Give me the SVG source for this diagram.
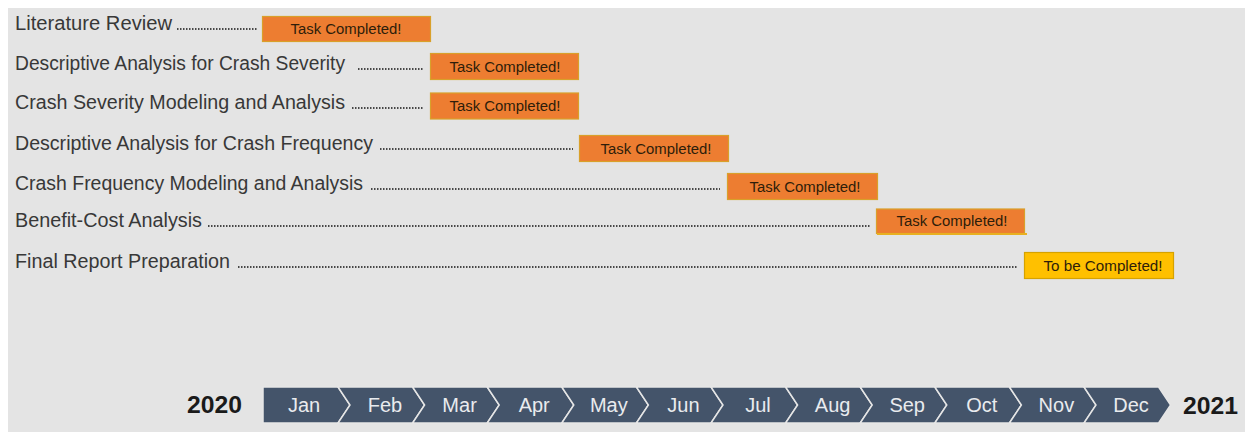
<svg xmlns="http://www.w3.org/2000/svg" width="1245" height="432" viewBox="0 0 1245 432">
  <style>
    .label { font-family: "Liberation Sans", Arial, sans-serif; font-size: 20px; fill: #383838; }
    .status { font-family: "Liberation Sans", Arial, sans-serif; font-size: 14px; fill: #2e1d0a; text-anchor: middle; }
    .done { fill: #ed7d31; stroke: #d9a02a; stroke-width: 1.2; }
    .todo { fill: #ffc000; stroke: #d6a200; stroke-width: 1.2; }
    .leader { stroke: #474747; stroke-width: 1.8; stroke-dasharray: 1.5 1.5; fill: none; }
    .chev { fill: #44546a; stroke: #e6e6e6; stroke-width: 1.5; stroke-linejoin: miter; }
    .month { font-family: "Liberation Sans", Arial, sans-serif; font-size: 20px; fill: #e9ebee; text-anchor: middle; }
    .year { font-family: "Liberation Sans", Arial, sans-serif; font-size: 23px; font-weight: bold; fill: #1a1a1a; }
  </style>

  <!-- page backdrop -->
  <rect x="0" y="0" width="1245" height="432" fill="#ffffff"/>
  <rect x="8" y="8" width="1237" height="424" fill="#e4e4e4"/>

  <!-- dotted leaders from each task name to its status bar -->
  <g id="leaders">
    <line class="leader" x1="177" y1="29" x2="257" y2="29"/>
    <line class="leader" x1="358" y1="69" x2="424" y2="69"/>
    <line class="leader" x1="352" y1="108" x2="424" y2="108"/>
    <line class="leader" x1="380" y1="149" x2="573" y2="149"/>
    <line class="leader" x1="371" y1="189" x2="720" y2="189"/>
    <line class="leader" x1="208" y1="226" x2="871" y2="226"/>
    <line class="leader" x1="238" y1="267" x2="1017" y2="267"/>
  </g>

  <g id="task-literature-review">
    <text class="label" x="15" y="30" textLength="157" lengthAdjust="spacingAndGlyphs">Literature Review</text>
    <rect class="done" x="262.5" y="16.5" width="168" height="25"/>
    <text class="status" x="346" y="34" textLength="111" lengthAdjust="spacingAndGlyphs">Task Completed!</text>
  </g>

  <g id="task-severity-descriptive">
    <text class="label" x="15" y="70" textLength="330" lengthAdjust="spacingAndGlyphs">Descriptive Analysis for Crash Severity</text>
    <rect class="done" x="430.5" y="53.5" width="148" height="26"/>
    <text class="status" x="505" y="71.5" textLength="111" lengthAdjust="spacingAndGlyphs">Task Completed!</text>
  </g>

  <g id="task-severity-modeling">
    <text class="label" x="15" y="109" textLength="330" lengthAdjust="spacingAndGlyphs">Crash Severity Modeling and Analysis</text>
    <rect class="done" x="430.5" y="93" width="148" height="26"/>
    <text class="status" x="505" y="111" textLength="111" lengthAdjust="spacingAndGlyphs">Task Completed!</text>
  </g>

  <g id="task-frequency-descriptive">
    <text class="label" x="15" y="150" textLength="358" lengthAdjust="spacingAndGlyphs">Descriptive Analysis for Crash Frequency</text>
    <rect class="done" x="579.5" y="135.5" width="149" height="26"/>
    <text class="status" x="656" y="153.5" textLength="111" lengthAdjust="spacingAndGlyphs">Task Completed!</text>
  </g>

  <g id="task-frequency-modeling">
    <text class="label" x="15" y="190" textLength="348" lengthAdjust="spacingAndGlyphs">Crash Frequency Modeling and Analysis</text>
    <rect class="done" x="727.5" y="173.5" width="150" height="26"/>
    <text class="status" x="805" y="191.5" textLength="111" lengthAdjust="spacingAndGlyphs">Task Completed!</text>
  </g>

  <g id="task-benefit-cost">
    <text class="label" x="15" y="227" textLength="187" lengthAdjust="spacingAndGlyphs">Benefit-Cost Analysis</text>
    <rect class="done" x="876.5" y="209" width="148" height="24.5"/>
    <line x1="877" y1="234" x2="1027" y2="234" stroke="#e8b020" stroke-width="2"/>
    <text class="status" x="952" y="226" textLength="111" lengthAdjust="spacingAndGlyphs">Task Completed!</text>
  </g>

  <g id="task-final-report">
    <text class="label" x="15" y="268" textLength="215" lengthAdjust="spacingAndGlyphs">Final Report Preparation</text>
    <rect class="todo" x="1024.5" y="252.5" width="149" height="26"/>
    <text class="status" x="1103" y="271" textLength="119" lengthAdjust="spacingAndGlyphs">To be Completed!</text>
  </g>

  <!-- month timeline -->
  <g id="timeline">
    <text class="year" x="187" y="413" textLength="55" lengthAdjust="spacingAndGlyphs">2020</text>
    <polygon class="chev" points="263,387 338,387 350,405 338,423 263,423"/>
    <polygon class="chev" points="338,387 412.6,387 424.6,405 412.6,423 338,423 350,405"/>
    <polygon class="chev" points="412.6,387 487.2,387 499.2,405 487.2,423 412.6,423 424.6,405"/>
    <polygon class="chev" points="487.2,387 561.8,387 573.8,405 561.8,423 487.2,423 499.2,405"/>
    <polygon class="chev" points="561.8,387 636.4,387 648.4,405 636.4,423 561.8,423 573.8,405"/>
    <polygon class="chev" points="636.4,387 711,387 723,405 711,423 636.4,423 648.4,405"/>
    <polygon class="chev" points="711,387 785.6,387 797.6,405 785.6,423 711,423 723,405"/>
    <polygon class="chev" points="785.6,387 860.2,387 872.2,405 860.2,423 785.6,423 797.6,405"/>
    <polygon class="chev" points="860.2,387 934.8,387 946.8,405 934.8,423 860.2,423 872.2,405"/>
    <polygon class="chev" points="934.8,387 1009.4,387 1021.4,405 1009.4,423 934.8,423 946.8,405"/>
    <polygon class="chev" points="1009.4,387 1084,387 1096,405 1084,423 1009.4,423 1021.4,405"/>
    <polygon class="chev" points="1084,387 1158.6,387 1170.6,405 1158.6,423 1084,423 1096,405"/>
    <text class="month" x="304" y="412">Jan</text>
    <text class="month" x="385" y="412">Feb</text>
    <text class="month" x="459.6" y="412">Mar</text>
    <text class="month" x="534.2" y="412">Apr</text>
    <text class="month" x="608.8" y="412">May</text>
    <text class="month" x="683.4" y="412">Jun</text>
    <text class="month" x="758" y="412">Jul</text>
    <text class="month" x="832.6" y="412">Aug</text>
    <text class="month" x="907.2" y="412">Sep</text>
    <text class="month" x="981.8" y="412">Oct</text>
    <text class="month" x="1056.4" y="412">Nov</text>
    <text class="month" x="1131" y="412">Dec</text>
    <text class="year" x="1183" y="414" textLength="55" lengthAdjust="spacingAndGlyphs">2021</text>
  </g>
</svg>
